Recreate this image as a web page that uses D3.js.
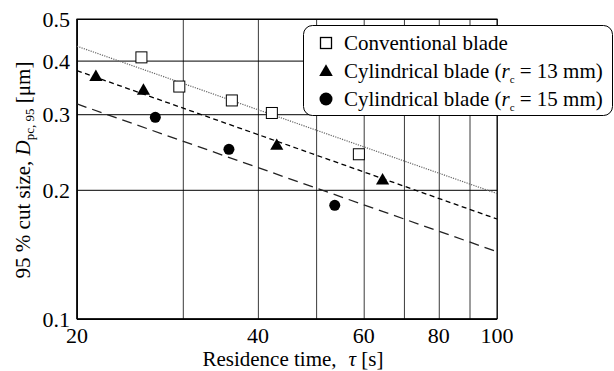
<!DOCTYPE html>
<html><head><meta charset="utf-8">
<script src="https://cdn.jsdelivr.net/npm/d3@7"></script>
<style>
svg#c text, svg#c tspan { font-family: "Liberation Serif" !important; }
</style>
</head>
<body style="margin:0"><svg id="c" width="614" height="371"></svg>
<script>
// ---- data ----
const convX = [25.6, 29.6, 36.2, 42.2, 58.9];
const convY = [0.407, 0.348, 0.323, 0.302, 0.242];
const tri13X = [21.5, 25.8, 43.0, 64.5];
const tri13Y = [0.366, 0.340, 0.253, 0.210];
const cyl15X = [27.0, 35.8, 53.7];
const cyl15Y = [0.295, 0.2485, 0.184];
// fitted lines (endpoints at tau = 20 and 100)
const fitX = [20, 100];
const fitConv = [0.432, 0.196];
const fit13 = [0.379, 0.171];
const fit15 = [0.317, 0.1435];
const xTickLabels = [20, 40, 60, 80, 100];
const xGrid = [20, 30, 40, 50, 60, 70, 80, 90, 100];
const yTickLabels = [0.1, 0.2, 0.3, 0.4, 0.5];
const legendLabels = ["Conventional blade", "Cylindrical blade (", "Cylindrical blade ("];

const FF = '"Liberation Serif"';
function font(sel, size) {
  return sel.style("font-family", FF, "important").style("font-size", size + "px", "important");
}
const svg = d3.select("#c");
const L = 77, R = 497, T = 19, B = 319;
const x = d3.scaleLog().domain([20, 100]).range([L, R]);
const y = d3.scaleLog().domain([0.1, 0.5]).range([B, T]);

// gridlines
svg.append("g").attr("transform", `translate(0,${B})`)
  .call(d3.axisBottom(x).tickValues(xGrid).tickSize(-(B - T)).tickFormat(""))
  .call(g => g.select(".domain").remove())
  .call(g => g.selectAll("line").attr("stroke", "#3a3a3a").attr("stroke-width", 1));
svg.append("g").attr("transform", `translate(${L},0)`)
  .call(d3.axisLeft(y).tickValues(yTickLabels).tickSize(-(R - L)).tickFormat(""))
  .call(g => g.select(".domain").remove())
  .call(g => g.selectAll("line").attr("stroke", "#000").attr("stroke-width", 1));
// frame
svg.append("rect").attr("x", L).attr("y", T).attr("width", R - L).attr("height", B - T)
  .attr("fill", "none").attr("stroke", "#000").attr("stroke-width", 1);
svg.append("line").attr("x1", L).attr("x2", L).attr("y1", T).attr("y2", B).attr("stroke", "#000").attr("stroke-width", 1.5);
svg.append("line").attr("x1", L).attr("x2", R).attr("y1", B).attr("y2", B).attr("stroke", "#000").attr("stroke-width", 1.5);

// tick labels, positioned by the scales
const xl = svg.append("g");
xTickLabels.forEach(v => {
  font(xl.append("text").attr("x", x(v)).attr("y", B + 24).attr("text-anchor", "middle"), 22)
    .text(d3.format("d")(v));
});
const yl = svg.append("g");
yTickLabels.forEach(v => {
  font(yl.append("text").attr("x", L - 7).attr("y", y(v) + 8).attr("text-anchor", "end"), 22)
    .text(d3.format(".1f")(v));
});

// fit lines
const line = d3.line().x(d => x(d[0])).y(d => y(d[1]));
function fitLine(vals, dash, color, w) {
  svg.append("path").datum(fitX.map((v, i) => [v, vals[i]])).attr("d", line)
    .attr("fill", "none").attr("stroke", color).attr("stroke-width", w).attr("stroke-dasharray", dash);
}
fitLine(fitConv, "1.2,1.2", "#666", 1.2);
fitLine(fit13, "5,3.5", "#000", 1.3);
fitLine(fit15, "10,6", "#222", 1.3);

// markers
const sq = 11;
svg.append("g").selectAll("rect").data(convX.map((v, i) => [v, convY[i]])).join("rect")
  .attr("x", d => x(d[0]) - sq / 2).attr("y", d => y(d[1]) - sq / 2)
  .attr("width", sq).attr("height", sq).attr("fill", "#fff").attr("stroke", "#000").attr("stroke-width", 1);
const triSym = d3.symbol().type(d3.symbolTriangle).size(75);
svg.append("g").selectAll("path").data(tri13X.map((v, i) => [v, tri13Y[i]])).join("path")
  .attr("d", triSym).attr("transform", d => `translate(${x(d[0])},${y(d[1])})`).attr("fill", "#000");
svg.append("g").selectAll("circle").data(cyl15X.map((v, i) => [v, cyl15Y[i]])).join("circle")
  .attr("cx", d => x(d[0])).attr("cy", d => y(d[1])).attr("r", 5.5).attr("fill", "#000");

// legend
const lg = svg.append("g");
lg.append("rect").attr("x", 303.5).attr("y", 25.5).attr("width", 309).attr("height", 90).attr("rx", 9)
  .attr("fill", "#fff").attr("stroke", "#000").attr("stroke-width", 1);
const rows = [43, 71, 99];
lg.append("rect").attr("x", 320.5).attr("y", rows[0] - 5.5).attr("width", 11).attr("height", 11)
  .attr("fill", "#fff").attr("stroke", "#000").attr("stroke-width", 1.3);
lg.append("path").attr("d", d3.symbol().type(d3.symbolTriangle).size(80))
  .attr("transform", `translate(326,${rows[1] + 1})`).attr("fill", "#000");
lg.append("circle").attr("cx", 326).attr("cy", rows[2]).attr("r", 6.5).attr("fill", "#000");
const subs = [null, "13", "15"];
legendLabels.forEach((t, i) => {
  const tx = font(lg.append("text").attr("x", 344).attr("y", rows[i] + 7), 21);
  font(tx.append("tspan"), 21).text(t);
  if (subs[i]) {
    font(tx.append("tspan"), 21).style("font-style", "italic").text("r");
    font(tx.append("tspan"), 11).attr("dy", 5).text("c");
    font(tx.append("tspan"), 21).attr("dy", -5).text(" = " + subs[i] + " mm)");
  }
});

// axis titles
const xt = font(svg.append("text").attr("x", 293).attr("y", 366).attr("text-anchor", "middle"), 21);
font(xt.append("tspan"), 21).text("Residence time,");
font(xt.append("tspan"), 21).attr("dx", 12).style("font-style", "italic").text("τ");
font(xt.append("tspan"), 21).text(" [s]");

const yt = font(svg.append("text").attr("transform", "translate(30,170) rotate(-90)").attr("text-anchor", "middle"), 21);
font(yt.append("tspan"), 21).text("95 % cut size, ");
font(yt.append("tspan"), 21).style("font-style", "italic").text("D");
font(yt.append("tspan"), 13).attr("dy", 4).text("pc, 95");
font(yt.append("tspan"), 21).attr("dy", -4).text(" [μm]");
</script></body></html>
